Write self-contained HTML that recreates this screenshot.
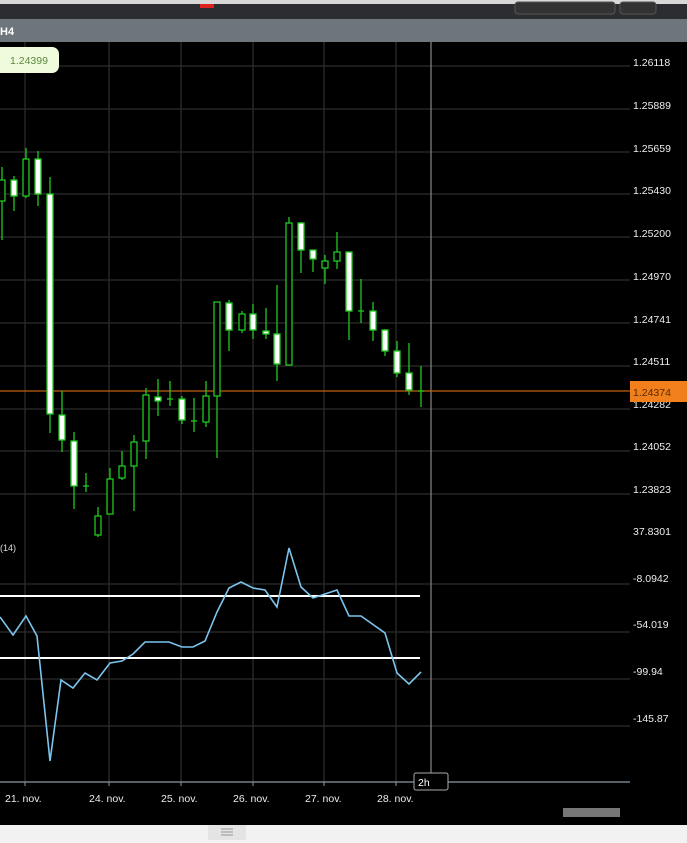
<!DOCTYPE html>
<html><head><style>
html,body{margin:0;padding:0;background:#000;width:687px;height:843px;overflow:hidden;font-family:"Liberation Sans",sans-serif;}
</style></head><body>
<svg width="687" height="843" xmlns="http://www.w3.org/2000/svg" font-family="Liberation Sans, sans-serif">
<rect width="687" height="843" fill="#000"/>
<rect x="0" y="0" width="687" height="4" fill="#d8d8d8"/>
<rect x="0" y="4" width="687" height="15" fill="#2b2d30"/>
<rect x="515" y="2" width="100" height="12" rx="3" fill="#333" stroke="#555"/>
<rect x="620" y="2" width="36" height="12" rx="3" fill="#333" stroke="#555"/>
<rect x="200" y="4" width="14" height="4" fill="#d22"/>
<rect x="0" y="19" width="687" height="23" fill="#6e757b"/>
<text x="0" y="35" font-size="11" font-weight="bold" fill="#fff">H4</text>
<g stroke="#2e2e2e" stroke-width="1.2">
<line x1="0" y1="66" x2="630" y2="66"/><line x1="0" y1="109" x2="630" y2="109"/><line x1="0" y1="152" x2="630" y2="152"/><line x1="0" y1="194" x2="630" y2="194"/><line x1="0" y1="237" x2="630" y2="237"/><line x1="0" y1="280" x2="630" y2="280"/><line x1="0" y1="323" x2="630" y2="323"/><line x1="0" y1="366" x2="630" y2="366"/><line x1="0" y1="409" x2="630" y2="409"/><line x1="0" y1="451" x2="630" y2="451"/><line x1="0" y1="494" x2="630" y2="494"/>
<line x1="0" y1="584" x2="630" y2="584"/><line x1="0" y1="632" x2="630" y2="632"/><line x1="0" y1="679" x2="630" y2="679"/><line x1="0" y1="726" x2="630" y2="726"/>
<line x1="25" y1="42" x2="25" y2="782"/><line x1="109" y1="42" x2="109" y2="782"/><line x1="181" y1="42" x2="181" y2="782"/><line x1="253" y1="42" x2="253" y2="782"/><line x1="324" y1="42" x2="324" y2="782"/><line x1="396" y1="42" x2="396" y2="782"/>
</g>
<line x1="431" y1="42" x2="431" y2="775" stroke="#888" stroke-width="1.2"/>
<line x1="0" y1="391" x2="630" y2="391" stroke="#c0600f" stroke-width="1.3"/>
<g stroke="#1ec81e" stroke-width="1.3" fill="none">
<line x1="2" y1="167" x2="2" y2="240"/><rect x="-1" y="180" width="6" height="21" fill="#000"/>
<line x1="14" y1="176" x2="14" y2="211"/><rect x="11" y="180" width="6" height="16" fill="#fff"/>
<line x1="26" y1="148" x2="26" y2="198"/><rect x="23" y="159" width="6" height="37" fill="#000"/>
<line x1="38" y1="151" x2="38" y2="206"/><rect x="35" y="159" width="6" height="35" fill="#fff"/>
<line x1="50" y1="177" x2="50" y2="433"/><rect x="47" y="194" width="6" height="220" fill="#fff"/>
<line x1="62" y1="391" x2="62" y2="452"/><rect x="59" y="415" width="6" height="25" fill="#fff"/>
<line x1="74" y1="432" x2="74" y2="509"/><rect x="71" y="441" width="6" height="45" fill="#fff"/>
<line x1="86" y1="473" x2="86" y2="492"/><line x1="83" y1="486" x2="89" y2="486"/>
<line x1="98" y1="507" x2="98" y2="537"/><rect x="95" y="516" width="6" height="19" fill="#000"/>
<line x1="110" y1="468" x2="110" y2="514"/><rect x="107" y="479" width="6" height="35" fill="#000"/>
<line x1="122" y1="451" x2="122" y2="480"/><rect x="119" y="466" width="6" height="12" fill="#000"/>
<line x1="134" y1="435" x2="134" y2="511"/><rect x="131" y="442" width="6" height="24" fill="#000"/>
<line x1="146" y1="388" x2="146" y2="459"/><rect x="143" y="395" width="6" height="46" fill="#000"/>
<line x1="158" y1="379" x2="158" y2="416"/><rect x="155" y="397" width="6" height="4" fill="#fff"/>
<line x1="170" y1="381" x2="170" y2="406"/><line x1="167" y1="399" x2="173" y2="399"/>
<line x1="182" y1="396" x2="182" y2="424"/><rect x="179" y="399" width="6" height="21" fill="#fff"/>
<line x1="194" y1="398" x2="194" y2="432"/><line x1="191" y1="421" x2="197" y2="421"/>
<line x1="206" y1="381" x2="206" y2="427"/><rect x="203" y="396" width="6" height="26" fill="#000"/>
<line x1="217" y1="302" x2="217" y2="458"/><rect x="214" y="302" width="6" height="94" fill="#000"/>
<line x1="229" y1="300" x2="229" y2="351"/><rect x="226" y="303" width="6" height="27" fill="#fff"/>
<line x1="242" y1="311" x2="242" y2="333"/><rect x="239" y="314" width="6" height="16" fill="#000"/>
<line x1="253" y1="304" x2="253" y2="339"/><rect x="250" y="314" width="6" height="16" fill="#fff"/>
<line x1="266" y1="308" x2="266" y2="339"/><rect x="263" y="331" width="6" height="3" fill="#fff"/>
<line x1="277" y1="285" x2="277" y2="381"/><rect x="274" y="334" width="6" height="30" fill="#fff"/>
<line x1="289" y1="217" x2="289" y2="365"/><rect x="286" y="223" width="6" height="142" fill="#000"/>
<line x1="301" y1="222" x2="301" y2="273"/><rect x="298" y="223" width="6" height="27" fill="#fff"/>
<line x1="313" y1="250" x2="313" y2="272"/><rect x="310" y="250" width="6" height="9" fill="#fff"/>
<line x1="325" y1="255" x2="325" y2="284"/><rect x="322" y="261" width="6" height="7" fill="#000"/>
<line x1="337" y1="232" x2="337" y2="269"/><rect x="334" y="252" width="6" height="9" fill="#000"/>
<line x1="349" y1="252" x2="349" y2="340"/><rect x="346" y="252" width="6" height="59" fill="#fff"/>
<line x1="361" y1="279" x2="361" y2="323"/><line x1="358" y1="311" x2="364" y2="311"/>
<line x1="373" y1="302" x2="373" y2="341"/><rect x="370" y="311" width="6" height="19" fill="#fff"/>
<line x1="385" y1="329" x2="385" y2="356"/><rect x="382" y="330" width="6" height="21" fill="#fff"/>
<line x1="397" y1="341" x2="397" y2="377"/><rect x="394" y="351" width="6" height="22" fill="#fff"/>
<line x1="409" y1="343" x2="409" y2="395"/><rect x="406" y="373" width="6" height="17" fill="#fff"/>
<line x1="421" y1="366" x2="421" y2="407"/><line x1="418" y1="391" x2="424" y2="391"/>
</g>
<line x1="0" y1="596" x2="420" y2="596" stroke="#fff" stroke-width="2"/>
<line x1="0" y1="658" x2="420" y2="658" stroke="#fff" stroke-width="2"/>
<polyline fill="none" stroke="#7cc4ee" stroke-width="1.6" points="0,617 13,635 26,616 37,636 50,761 61,680 73,688 85,673 97,680 110,663 122,661 133,654 145,642 169,642 182,647 193,647 205,641 217,612 229,588 241,582 253,588 265,590 277,607 289,548 301,587 313,598 337,590 349,616 361,616 385,633 397,673 409,684 421,672"/>
<text x="0" y="551" font-size="9" fill="#ddd">(14)</text>
<rect x="-10" y="47" width="69" height="26" rx="7" fill="#f0fadc"/>
<text x="10" y="64" font-size="10.5" fill="#5c8a3c">1.24399</text>
<g font-size="10.5" fill="#eee">
<text x="633" y="66">1.26118</text><text x="633" y="109">1.25889</text><text x="633" y="152">1.25659</text><text x="633" y="194">1.25430</text><text x="633" y="237">1.25200</text><text x="633" y="280">1.24970</text><text x="633" y="323">1.24741</text><text x="633" y="365">1.24511</text><text x="633" y="408">1.24282</text><text x="633" y="450">1.24052</text><text x="633" y="493">1.23823</text>
<text x="633" y="535">37.8301</text><text x="633" y="582">-8.0942</text><text x="633" y="628">-54.019</text><text x="633" y="675">-99.94</text><text x="633" y="722">-145.87</text>
</g>
<rect x="630" y="381" width="57" height="21" fill="#f07f1c"/>
<text x="633" y="396" font-size="10.5" fill="#5a2a00">1.24374</text>
<line x1="0" y1="782" x2="630" y2="782" stroke="#8a9aa8" stroke-width="1.2"/>
<g stroke="#8a9aa8"><line x1="25" y1="782" x2="25" y2="786"/><line x1="109" y1="782" x2="109" y2="786"/><line x1="181" y1="782" x2="181" y2="786"/><line x1="253" y1="782" x2="253" y2="786"/><line x1="324" y1="782" x2="324" y2="786"/><line x1="396" y1="782" x2="396" y2="786"/></g>
<g font-size="10.5" fill="#eee">
<text x="5" y="802">21. nov.</text><text x="89" y="802">24. nov.</text><text x="161" y="802">25. nov.</text><text x="233" y="802">26. nov.</text><text x="305" y="802">27. nov.</text><text x="377" y="802">28. nov.</text>
</g>
<rect x="414" y="773" width="34" height="17" rx="2" fill="#000" stroke="#aaa"/>
<text x="418" y="786" font-size="10.5" fill="#fff">2h</text>
<rect x="563" y="808" width="57" height="9" fill="#777"/>
<rect x="0" y="825" width="687" height="18" fill="#f2f2f2"/>
<rect x="208" y="825" width="38" height="15" fill="#e4e4e4"/>
<g stroke="#999"><line x1="221" y1="829" x2="233" y2="829"/><line x1="221" y1="832" x2="233" y2="832"/><line x1="221" y1="835" x2="233" y2="835"/></g>
</svg>
</body></html>
